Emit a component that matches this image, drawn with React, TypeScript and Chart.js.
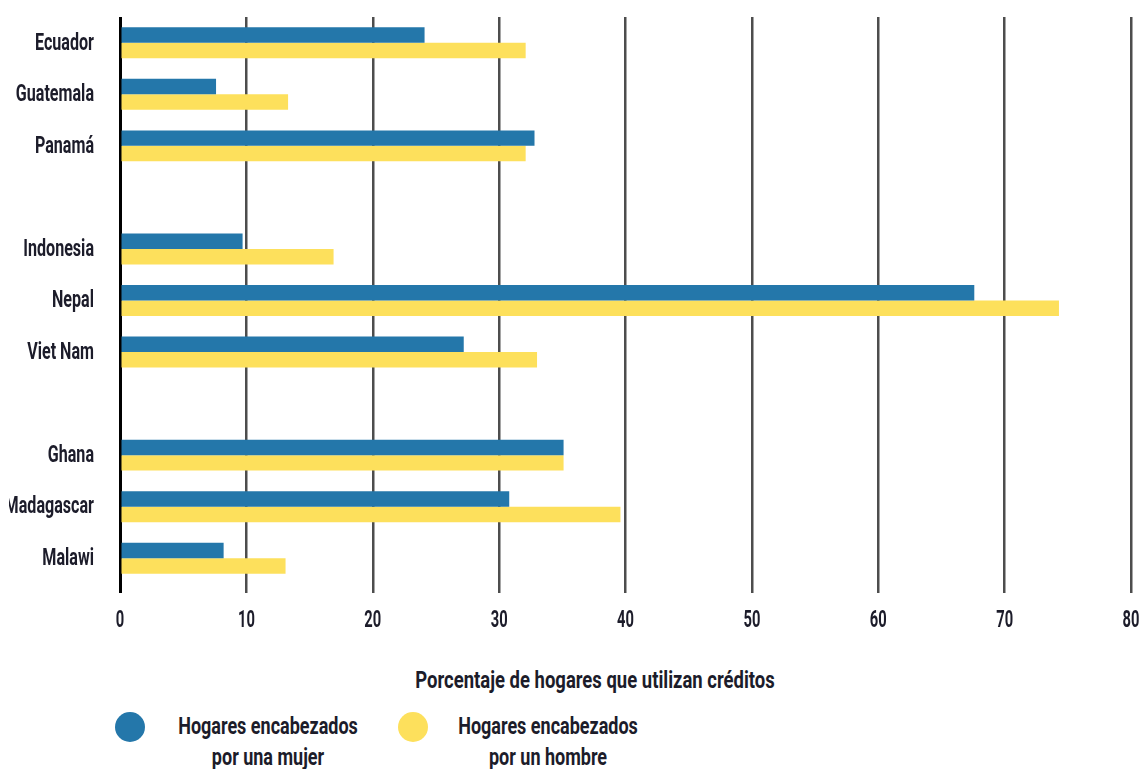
import React, { useEffect, useRef } from "react";
import { Chart, registerables } from "chart.js";

Chart.register(...registerables);

const categories = ["Ecuador", "Guatemala", "Panamá", "", "Indonesia", "Nepal", "Viet Nam", "", "Ghana", "Madagascar", "Malawi"];
const womenHeaded = [24.1, 7.6, 32.8, null, 9.7, 67.6, 27.2, null, 35.1, 30.8, 8.2];
const menHeaded = [32.1, 13.3, 32.1, null, 16.9, 74.3, 33.0, null, 35.1, 39.6, 13.1];
const xTicks = [0, 10, 20, 30, 40, 50, 60, 70, 80];
const seriesNames = ["Hogares encabezados por una mujer", "Hogares encabezados por un hombre"];
const legendLines = [
  ["Hogares encabezados", "por una mujer"],
  ["Hogares encabezados", "por un hombre"],
];
const axisTitle = "Porcentaje de hogares que utilizan créditos";

const BLUE = "#2477aa";
const YELLOW = "#fde05c";
const TEXT = "#1c1c2a";
const FONT = "Roboto, 'DejaVu Sans', sans-serif";
const SQUEEZE = 0.7;

const condensedLabels = {
  id: "condensedLabels",
  afterDraw(chart: any) {
    const ctx = chart.ctx as CanvasRenderingContext2D;
    const xs = chart.scales.x;
    const ys = chart.scales.y;
    ctx.save();
    ctx.fillStyle = TEXT;
    ctx.font = `bold 23px ${FONT}`;
    ctx.save();
    ctx.beginPath();
    ctx.rect(9, 0, chart.width, chart.height);
    ctx.clip();
    ctx.textAlign = "right";
    ctx.textBaseline = "middle";
    categories.forEach((c, i) => {
      if (!c) return;
      const y = ys.getPixelForValue(i);
      ctx.save();
      ctx.translate(94, y + 1);
      ctx.scale(SQUEEZE, 1);
      ctx.fillText(c, 0, 0);
      ctx.restore();
    });
    ctx.restore();
    ctx.textAlign = "center";
    ctx.textBaseline = "middle";
    xTicks.forEach((v) => {
      const x = xs.getPixelForValue(v);
      ctx.save();
      ctx.translate(x, 621);
      ctx.scale(0.64, 1);
      ctx.fillText(String(v), 0, 0);
      ctx.restore();
    });
    ctx.restore();
  },
};

export default function App() {
  const ref = useRef<HTMLCanvasElement | null>(null);

  useEffect(() => {
    if (!ref.current) return;
    const chart = new Chart(ref.current, {
      type: "bar",
      data: {
        labels: categories,
        datasets: [
          {
            label: seriesNames[0],
            data: womenHeaded,
            backgroundColor: BLUE,
            categoryPercentage: 0.6,
            barPercentage: 1.0,
          },
          {
            label: seriesNames[1],
            data: menHeaded,
            backgroundColor: YELLOW,
            categoryPercentage: 0.6,
            barPercentage: 1.0,
          },
        ],
      },
      plugins: [condensedLabels],
      options: {
        indexAxis: "y",
        animation: false,
        responsive: false,
        maintainAspectRatio: false,
        layout: { padding: { top: 17, right: 10, left: 0, bottom: 0 } },
        plugins: {
          legend: { display: false },
          tooltip: { enabled: false },
        },
        scales: {
          x: {
            min: 0,
            max: 80,
            afterBuildTicks: (scale: any) => {
              scale.ticks = xTicks.map((v) => ({ value: v }));
            },
            afterFit: (scale: any) => {
              scale.height = 56;
              scale.paddingLeft = 0;
              scale.paddingRight = 0;
            },
            border: { display: false },
            grid: {
              color: (ctx: any) => (ctx.tick && ctx.tick.value === 0 ? "#000000" : "#4d4d4d"),
              lineWidth: (ctx: any) => (ctx.tick && ctx.tick.value === 0 ? 3 : 2.5),
              drawTicks: true,
              tickLength: 9,
            },
            ticks: { display: false },
          },
          y: {
            afterFit: (scale: any) => {
              scale.width = 120;
              scale.paddingTop = 0;
              scale.paddingBottom = 0;
            },
            border: { display: false },
            grid: { display: false, drawTicks: false },
            ticks: { display: false, autoSkip: false },
          },
        },
      },
    });
    return () => chart.destroy();
  }, []);

  const txt = (cx: number, top: number, k: number, content: React.ReactNode): React.ReactNode => (
    <div
      style={{
        position: "absolute",
        left: cx - 250,
        width: 500,
        top,
        textAlign: "center",
        fontFamily: FONT,
        fontWeight: "bold",
        fontSize: 24,
        lineHeight: "31px",
        color: TEXT,
        transform: `scaleX(${k})`,
        transformOrigin: "center",
        whiteSpace: "nowrap",
      }}
    >
      {content}
    </div>
  );

  return (
    <div style={{ position: "absolute", left: 0, top: 0, width: 1141, height: 769, background: "#fff" }}>
      <canvas ref={ref} width={1141} height={640} style={{ position: "absolute", left: 0, top: 0, width: 1141, height: 640 }} />
      {txt(595, 665, 0.77, axisTitle)}
      <div style={{ position: "absolute", left: 115, top: 712, width: 30, height: 30, borderRadius: "50%", background: BLUE }} />
      {txt(268, 711, 0.75, <>{legendLines[0][0]}<br />{legendLines[0][1]}</>)}
      <div style={{ position: "absolute", left: 398, top: 712, width: 30, height: 30, borderRadius: "50%", background: YELLOW }} />
      {txt(548, 711, 0.75, <>{legendLines[1][0]}<br />{legendLines[1][1]}</>)}
    </div>
  );
}
